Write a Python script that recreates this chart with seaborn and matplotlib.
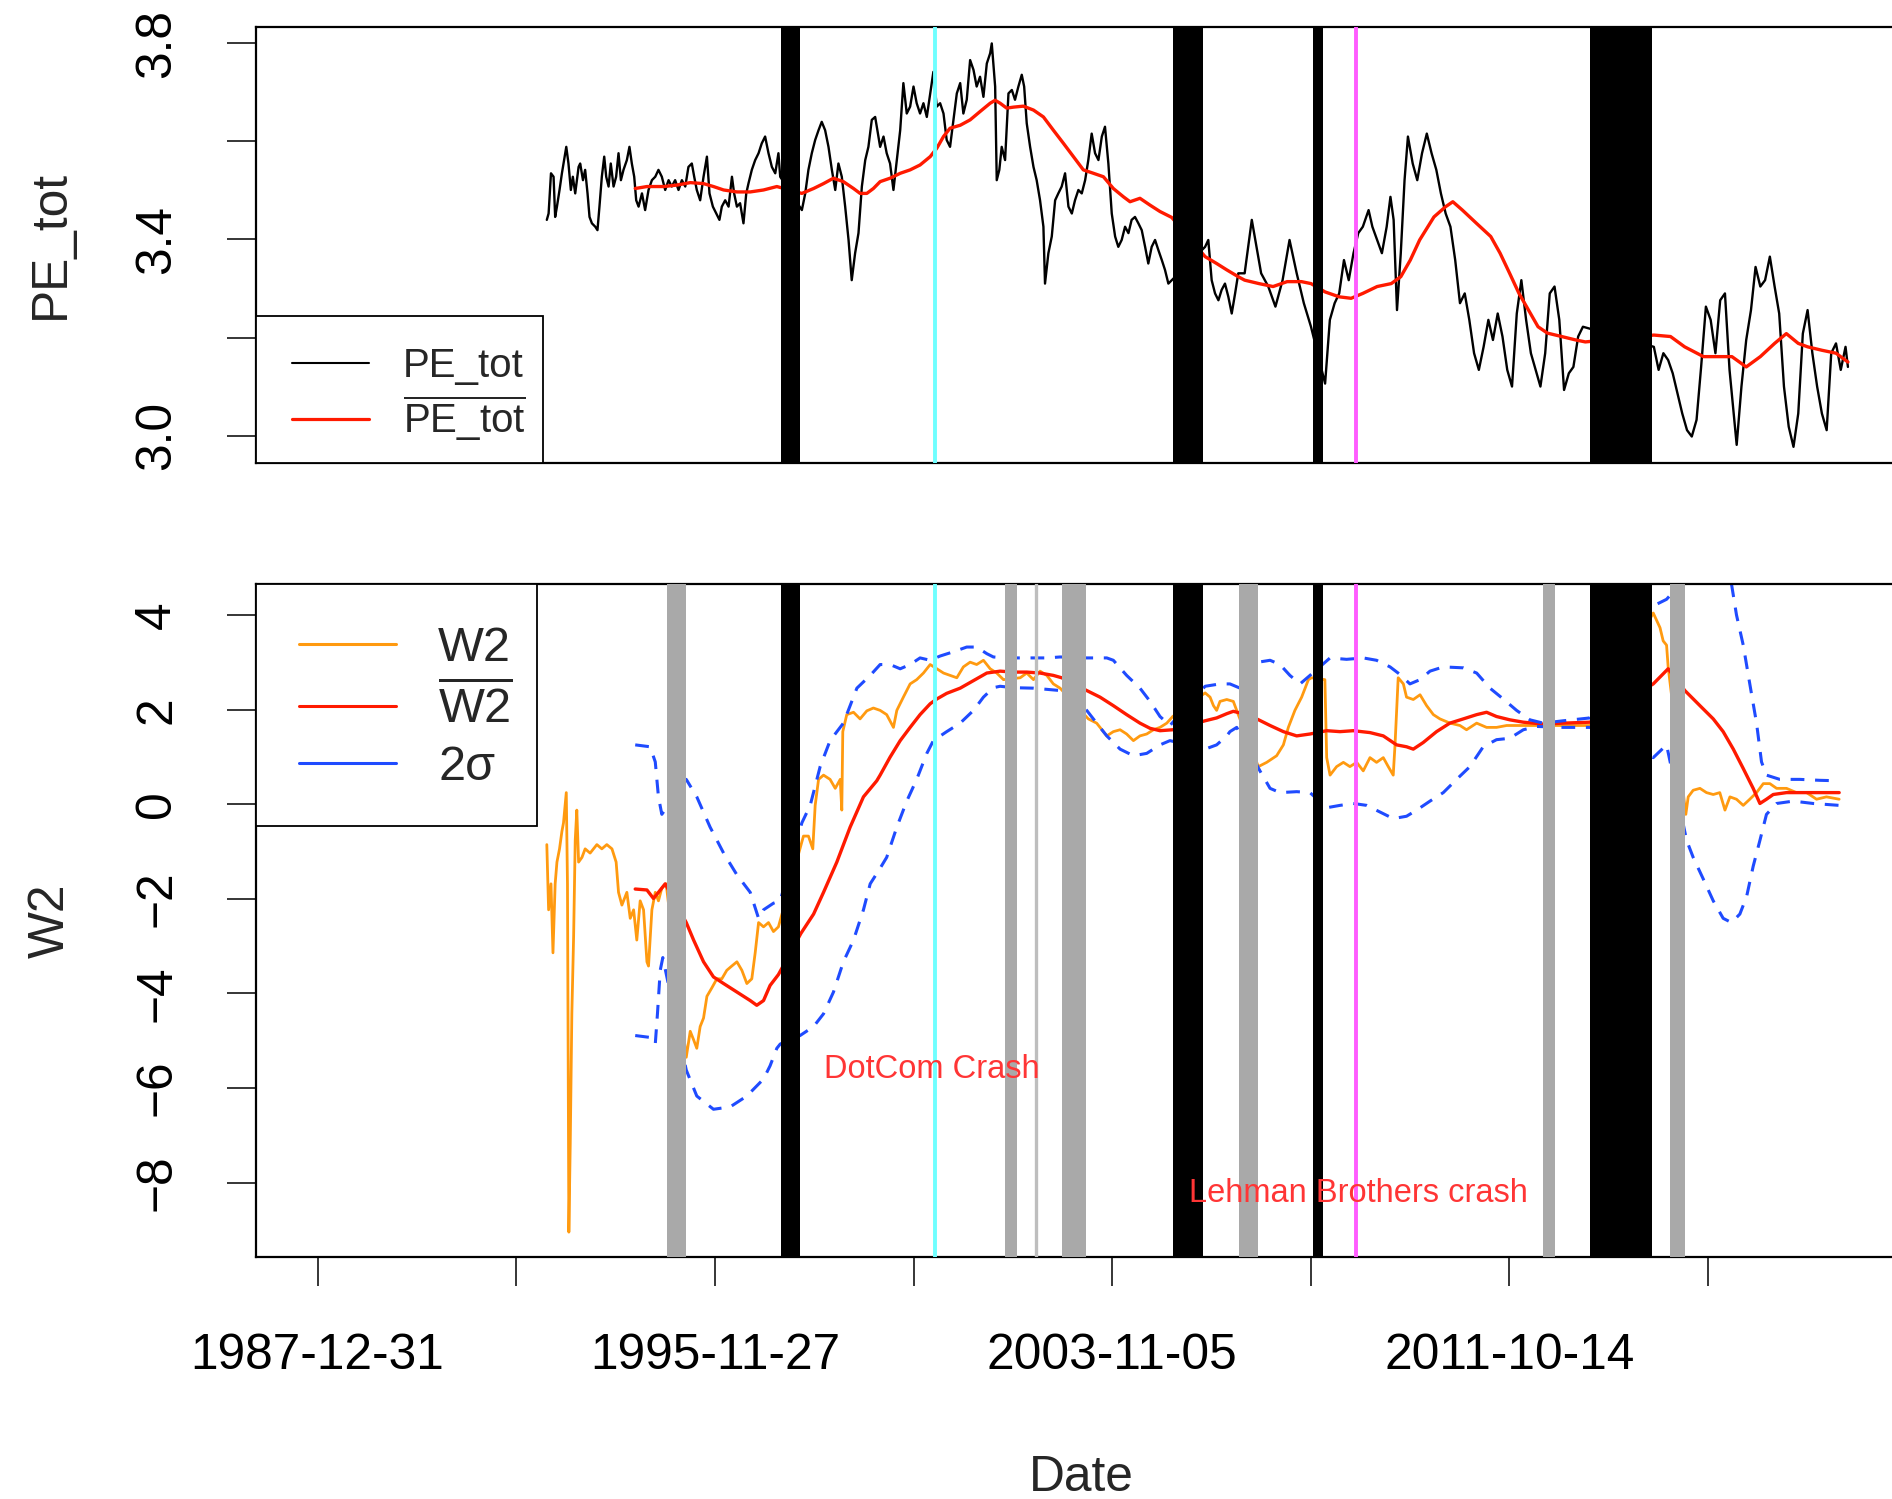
import matplotlib
matplotlib.use("Agg")
import matplotlib.pyplot as plt
import seaborn as sns
from matplotlib.lines import Line2D
from matplotlib.patches import Rectangle

# ---------------------------------------------------------------- data
# x positions are trading-day indices; dates are only used as tick labels
date_ticks = [0, 1000, 2000, 3000, 4000, 5000, 6000, 7000]
date_labels = ["1987-12-31", "", "1995-11-27", "", "2003-11-05", "", "2011-10-14", ""]

pe_idx = [1154, 1163, 1175, 1188, 1196, 1205, 1218, 1230, 1238, 1252, 1263, 1275, 1285, 1297, 1314,
          1322, 1336, 1347, 1359, 1369, 1381, 1398, 1409, 1419, 1431, 1443, 1453, 1465, 1476, 1490,
          1503, 1515, 1527, 1540, 1557, 1570, 1582, 1594, 1604, 1616, 1633, 1649, 1666, 1683, 1700,
          1716, 1733, 1750, 1767, 1783, 1800, 1817, 1834, 1851, 1867, 1884, 1896, 1909, 1926, 1943,
          1960, 1973, 1990, 2007, 2023, 2035, 2052, 2069, 2086, 2097, 2111, 2127, 2144, 2158, 2169,
          2186, 2203, 2220, 2236, 2253, 2270, 2287, 2304, 2320, 2329, 2438, 2455, 2471, 2488, 2505,
          2522, 2538, 2555, 2572, 2589, 2606, 2622, 2639, 2656, 2673, 2689, 2706, 2723, 2740, 2757,
          2773, 2790, 2807, 2832, 2849, 2865, 2882, 2899, 2916, 2933, 2949, 2966, 2983, 3000, 3016,
          3033, 3050, 3067, 3084, 3100, 3117, 3134, 3151, 3167, 3184, 3201, 3218, 3235, 3251, 3268,
          3285, 3302, 3318, 3335, 3352, 3369, 3386, 3394, 3411, 3419, 3432, 3444, 3461, 3478, 3495,
          3511, 3528, 3545, 3557, 3570, 3587, 3604, 3620, 3637, 3654, 3662, 3679, 3696, 3713, 3729,
          3746, 3763, 3780, 3797, 3813, 3830, 3847, 3864, 3880, 3897, 3914, 3931, 3948, 3964, 3981,
          3998, 4015, 4031, 4048, 4065, 4082, 4098, 4115, 4132, 4149, 4166, 4182, 4199, 4216, 4233,
          4250, 4266, 4283, 4468, 4484, 4501, 4518, 4535, 4551, 4568, 4585, 4602, 4619, 4635, 4667,
          4703, 4727, 4750, 4786, 4822, 4858, 4893, 4929, 4965, 5001, 5072, 5096, 5120, 5143, 5167,
          5191, 5215, 5239, 5262, 5291, 5310, 5334, 5358, 5382, 5401, 5417, 5434, 5453, 5472, 5489,
          5513, 5536, 5560, 5584, 5608, 5632, 5655, 5679, 5703, 5727, 5751, 5775, 5798, 5822, 5846,
          5870, 5894, 5917, 5941, 5965, 5989, 6013, 6037, 6060, 6084, 6108, 6132, 6156, 6180, 6203,
          6227, 6251, 6275, 6299, 6322, 6346, 6370, 6727, 6751, 6775, 6799, 6822, 6846, 6870, 6894,
          6918, 6942, 6965, 6989, 7013, 7037, 7061, 7085, 7108, 7132, 7144, 7168, 7192, 7216, 7239,
          7263, 7287, 7311, 7335, 7358, 7382, 7406, 7430, 7454, 7477, 7501, 7525, 7549, 7573, 7597,
          7620, 7644, 7668, 7692, 7704]
pe_val = [3.440, 3.453, 3.535, 3.528, 3.446, 3.467, 3.501, 3.535, 3.555, 3.589, 3.555, 3.501, 3.528, 3.494, 3.548,
          3.555, 3.521, 3.542, 3.494, 3.446, 3.433, 3.426, 3.419, 3.467, 3.528, 3.569, 3.528, 3.508, 3.555, 3.508,
          3.528, 3.576, 3.521, 3.542, 3.562, 3.589, 3.555, 3.528, 3.480, 3.467, 3.494, 3.460, 3.501, 3.521, 3.528,
          3.542, 3.528, 3.501, 3.521, 3.508, 3.521, 3.501, 3.521, 3.508, 3.548, 3.555, 3.528, 3.501, 3.480, 3.528,
          3.569, 3.494, 3.467, 3.453, 3.440, 3.467, 3.480, 3.467, 3.528, 3.494, 3.467, 3.474, 3.433, 3.494, 3.514,
          3.542, 3.562, 3.576, 3.596, 3.610, 3.576, 3.548, 3.535, 3.576, 3.528, 3.460, 3.494, 3.542, 3.576, 3.603,
          3.623, 3.640, 3.623, 3.589, 3.542, 3.501, 3.555, 3.528, 3.467, 3.399, 3.317, 3.372, 3.413, 3.508, 3.562,
          3.589, 3.644, 3.650, 3.589, 3.610, 3.576, 3.555, 3.501, 3.562, 3.623, 3.719, 3.657, 3.671, 3.712, 3.678,
          3.657, 3.678, 3.650, 3.698, 3.742, 3.671, 3.678, 3.657, 3.603, 3.589, 3.644, 3.698, 3.719, 3.657, 3.685,
          3.766, 3.746, 3.712, 3.732, 3.691, 3.759, 3.780, 3.800, 3.712, 3.521, 3.542, 3.589, 3.562, 3.698, 3.705,
          3.685, 3.712, 3.736, 3.712, 3.637, 3.589, 3.548, 3.521, 3.480, 3.426, 3.310, 3.372, 3.406, 3.480, 3.494,
          3.508, 3.535, 3.467, 3.453, 3.480, 3.501, 3.494, 3.521, 3.562, 3.616, 3.576, 3.562, 3.610, 3.630, 3.555,
          3.453, 3.406, 3.385, 3.399, 3.426, 3.413, 3.440, 3.446, 3.433, 3.419, 3.385, 3.351, 3.385, 3.399, 3.378,
          3.358, 3.338, 3.310, 3.385, 3.399, 3.317, 3.290, 3.276, 3.297, 3.310, 3.283, 3.249, 3.290, 3.331, 3.331,
          3.440, 3.385, 3.331, 3.304, 3.263, 3.317, 3.399, 3.331, 3.270, 3.222, 3.106, 3.236, 3.270, 3.290, 3.358,
          3.317, 3.372, 3.413, 3.426, 3.460, 3.426, 3.399, 3.372, 3.426, 3.487, 3.440, 3.256, 3.372, 3.521, 3.610,
          3.555, 3.521, 3.576, 3.616, 3.576, 3.542, 3.494, 3.453, 3.426, 3.358, 3.270, 3.290, 3.236, 3.168, 3.134,
          3.181, 3.236, 3.195, 3.249, 3.202, 3.134, 3.100, 3.249, 3.317, 3.236, 3.168, 3.134, 3.100, 3.168, 3.290,
          3.304, 3.236, 3.093, 3.127, 3.140, 3.202, 3.222, 3.181, 3.134, 3.168, 3.154, 3.127, 3.086, 3.045, 3.011,
          2.998, 3.032, 3.140, 3.263, 3.236, 3.168, 3.276, 3.290, 3.134, 3.032, 2.981, 3.100, 3.195, 3.256, 3.344,
          3.304, 3.317, 3.365, 3.304, 3.249, 3.100, 3.018, 2.977, 3.045, 3.208, 3.256, 3.168, 3.100, 3.045, 3.011,
          3.168, 3.188, 3.134, 3.181, 3.140]

pe_mean_idx = [1599, 1658, 1742, 1809, 1876, 1943, 1993, 2044, 2111, 2178, 2245, 2312, 2438, 2497, 2547,
               2597, 2647, 2698, 2731, 2765, 2798, 2832, 2882, 2933, 2983, 3033, 3084, 3117, 3151, 3184,
               3235, 3285, 3335, 3386, 3411, 3436, 3469, 3503, 3553, 3604, 3654, 3704, 3755, 3805, 3855,
               3906, 3956, 4006, 4057, 4090, 4140, 4191, 4241, 4300, 4468, 4526, 4577, 4635, 4667, 4739,
               4810, 4881, 4953, 5001, 5072, 5143, 5203, 5262, 5334, 5405, 5453, 5501, 5548, 5620, 5679,
               5715, 5763, 5834, 5906, 5953, 6001, 6048, 6096, 6144, 6191, 6263, 6334, 6382, 6727, 6811,
               6882, 6977, 7049, 7120, 7192, 7263, 7335, 7394, 7454, 7501, 7573, 7644, 7704]
pe_mean_val = [3.504, 3.508, 3.508, 3.511, 3.516, 3.514, 3.508, 3.501, 3.497, 3.497, 3.501, 3.508, 3.494, 3.504, 3.514,
               3.525, 3.518, 3.504, 3.494, 3.494, 3.504, 3.518, 3.525, 3.535, 3.542, 3.552, 3.569, 3.586, 3.610, 3.627,
               3.633, 3.644, 3.661, 3.678, 3.684, 3.678, 3.668, 3.670, 3.672, 3.664, 3.650, 3.623, 3.596, 3.569, 3.542,
               3.535, 3.528, 3.504, 3.487, 3.477, 3.484, 3.470, 3.457, 3.445, 3.365, 3.351, 3.338, 3.324, 3.317, 3.310,
               3.304, 3.314, 3.314, 3.310, 3.293, 3.283, 3.280, 3.290, 3.304, 3.310, 3.324, 3.358, 3.399, 3.446, 3.467,
               3.477, 3.460, 3.433, 3.406, 3.372, 3.331, 3.290, 3.256, 3.222, 3.209, 3.202, 3.195, 3.191, 3.205, 3.202,
               3.181, 3.161, 3.161, 3.161, 3.140, 3.161, 3.188, 3.208, 3.188, 3.181, 3.174, 3.168, 3.150]

w2_idx = [1154, 1163, 1175, 1185, 1196, 1205, 1218, 1230, 1238, 1252, 1258, 1265, 1272, 1280, 1289,
          1297, 1305, 1314, 1331, 1347, 1372, 1406, 1431, 1456, 1482, 1503, 1515, 1532, 1557, 1574,
          1591, 1607, 1624, 1641, 1658, 1666, 1683, 1700, 1716, 1733, 1755, 1856, 1876, 1893, 1909,
          1926, 1943, 1960, 1985, 2010, 2035, 2060, 2085, 2111, 2136, 2161, 2186, 2203, 2220, 2245,
          2270, 2295, 2320, 2446, 2471, 2493, 2505, 2522, 2547, 2580, 2606, 2631, 2639, 2644, 2664,
          2698, 2731, 2765, 2798, 2832, 2865, 2899, 2916, 2949, 2983, 3016, 3050, 3084, 3117, 3151,
          3184, 3218, 3251, 3285, 3318, 3352, 3386, 3419, 3453, 3537, 3570, 3604, 3637, 3671, 3704,
          3738, 3880, 3922, 3973, 4006, 4040, 4073, 4107, 4140, 4174, 4208, 4241, 4275, 4305, 4468,
          4493, 4510, 4526, 4543, 4577, 4610, 4635, 4736, 4778, 4828, 4862, 4887, 4920, 4954, 4988,
          5004, 5071, 5080, 5097, 5130, 5164, 5197, 5231, 5264, 5298, 5331, 5365, 5390, 5415, 5424,
          5440, 5466, 5482, 5516, 5550, 5583, 5617, 5650, 5701, 5751, 5784, 5835, 5885, 5935, 5986,
          6036, 6103, 6270, 6406, 6724, 6758, 6774, 6791, 6799, 6888, 6900, 6925, 6959, 6992, 7026,
          7059, 7085, 7110, 7143, 7177, 7210, 7244, 7278, 7311, 7345, 7395, 7445, 7496, 7546, 7596,
          7660]
w2_val = [-0.85, -2.23, -1.68, -3.14, -1.68, -1.22, -0.94, -0.57, -0.39, 0.25, -1.68, -9.05, -7.18, -4.43, -2.78,
          -0.76, -0.12, -1.22, -1.12, -0.94, -1.03, -0.85, -0.94, -0.85, -0.94, -1.22, -1.86, -2.13, -1.86, -2.41,
          -2.23, -2.87, -2.04, -2.23, -3.33, -3.42, -2.23, -1.86, -2.04, -1.77, -1.68, -5.35, -4.80, -4.98, -5.16,
          -4.70, -4.52, -4.06, -3.88, -3.69, -3.69, -3.51, -3.42, -3.33, -3.51, -3.79, -3.69, -3.14, -2.50, -2.59,
          -2.50, -2.69, -2.59, -0.67, -0.67, -0.94, -0.02, 0.53, 0.62, 0.53, 0.34, 0.53, -0.12, 1.54, 1.90,
          1.95, 1.81, 1.98, 2.04, 1.99, 1.90, 1.63, 1.99, 2.27, 2.55, 2.64, 2.78, 2.96, 2.87, 2.78,
          2.73, 2.68, 2.91, 3.01, 2.96, 3.05, 2.87, 2.78, 2.64, 2.68, 2.78, 2.64, 2.82, 2.73, 2.55,
          2.46, 1.81, 1.72, 1.45, 1.54, 1.58, 1.49, 1.35, 1.45, 1.49, 1.58, 1.63, 1.72, 1.86, 2.36,
          2.27, 2.09, 1.99, 2.18, 2.22, 2.18, 1.90, 0.80, 0.89, 1.03, 1.26, 1.63, 1.99, 2.27, 2.64,
          2.68, 2.64, 0.99, 0.62, 0.80, 0.89, 0.80, 0.89, 0.71, 0.99, 0.89, 0.99, 0.80, 0.62, 1.26,
          2.68, 2.55, 2.27, 2.22, 2.32, 2.09, 1.90, 1.81, 1.72, 1.67, 1.58, 1.72, 1.63, 1.63, 1.67,
          1.67, 1.67, 1.67, 1.67, 4.05, 3.74, 3.46, 3.37, 2.91, -0.21, 0.16, 0.30, 0.34, 0.25, 0.21,
          0.25, -0.12, 0.16, 0.11, -0.02, 0.11, 0.25, 0.44, 0.44, 0.34, 0.34, 0.25, 0.25, 0.11, 0.16,
          0.11]

w2_mean_idx = [1599, 1658, 1691, 1716, 1750, 1856, 1893, 1943, 1993, 2044, 2111, 2178, 2211, 2245, 2278,
               2320, 2433, 2497, 2547, 2614, 2681, 2748, 2815, 2832, 2882, 2933, 2983, 3033, 3084, 3117,
               3167, 3235, 3302, 3369, 3436, 3503, 3570, 3637, 3704, 3746, 3872, 3939, 4006, 4073, 4140,
               4191, 4241, 4305, 4468, 4526, 4577, 4610, 4660, 4728, 4795, 4862, 4929, 4996, 5080, 5147,
               5214, 5298, 5365, 5432, 5482, 5516, 5566, 5633, 5700, 5768, 5835, 5885, 5935, 6002, 6070,
               6170, 6271, 6405, 6724, 6799, 6883, 6959, 7026, 7076, 7127, 7177, 7227, 7261, 7294, 7328,
               7395, 7462, 7529, 7660]
w2_mean_val = [-1.79, -1.81, -1.99, -1.86, -1.68, -2.50, -2.87, -3.33, -3.65, -3.79, -3.97, -4.15, -4.25, -4.15, -3.83,
               -3.60, -2.73, -2.32, -1.86, -1.22, -0.48, 0.16, 0.50, 0.62, 1.00, 1.35, 1.63, 1.90, 2.13, 2.23,
               2.35, 2.46, 2.62, 2.78, 2.82, 2.80, 2.80, 2.78, 2.73, 2.68, 2.41, 2.27, 2.09, 1.90, 1.72,
               1.61, 1.56, 1.58, 1.77, 1.83, 1.92, 1.97, 1.92, 1.81, 1.67, 1.54, 1.45, 1.49, 1.56, 1.54,
               1.56, 1.52, 1.45, 1.26, 1.22, 1.17, 1.31, 1.54, 1.72, 1.81, 1.90, 1.95, 1.86, 1.79, 1.74,
               1.70, 1.72, 1.74, 2.55, 2.87, 2.41, 2.09, 1.81, 1.54, 1.17, 0.76, 0.34, 0.02, 0.11, 0.21,
               0.25, 0.25, 0.25, 0.25]

upper_idx = [1599, 1674, 1700, 1716, 1733, 1856, 1909, 1976, 2044, 2111, 2178, 2220, 2245, 2295, 2329,
             2438, 2480, 2530, 2580, 2647, 2715, 2782, 2832, 2882, 2933, 2983, 3033, 3084, 3134, 3201,
             3268, 3318, 3369, 3402, 3469, 3570, 3671, 3738, 3872, 3973, 4006, 4073, 4140, 4191, 4241,
             4291, 4468, 4543, 4593, 4644, 4736, 4795, 4845, 4895, 4946, 4996, 5097, 5180, 5264, 5331,
             5399, 5449, 5499, 5550, 5600, 5667, 5768, 5835, 5902, 5969, 6036, 6103, 6170, 6271, 6405,
             6724, 6791, 6900, 7000, 7080, 7118, 7143, 7177, 7210, 7244, 7269, 7294, 7361, 7462, 7563,
             7660]
upper_val = [1.26, 1.22, 0.90, 0.16, -0.21, 0.53, 0.16, -0.48, -1.03, -1.49, -1.86, -2.41, -2.23, -2.09, -2.04,
             -0.39, -0.02, 0.80, 1.35, 1.72, 2.46, 2.73, 2.96, 2.96, 2.87, 2.96, 3.10, 3.05, 3.14, 3.23,
             3.33, 3.33, 3.19, 3.12, 3.10, 3.10, 3.10, 3.12, 3.10, 3.10, 3.05, 2.73, 2.46, 2.18, 1.86,
             1.67, 2.50, 2.55, 2.55, 2.46, 3.01, 3.05, 2.96, 2.73, 2.55, 2.73, 3.10, 3.07, 3.10, 3.05,
             2.91, 2.75, 2.55, 2.64, 2.82, 2.91, 2.89, 2.78, 2.46, 2.23, 1.99, 1.79, 1.72, 1.77, 1.83,
             4.20, 4.34, 4.85, 5.10, 4.95, 4.66, 4.01, 3.37, 2.55, 1.72, 0.90, 0.62, 0.53, 0.53, 0.51,
             0.50]

lower_idx = [1599, 1674, 1700, 1711, 1725, 1738, 1856, 1909, 1993, 2077, 2161, 2245, 2278, 2312, 2329,
             2429, 2497, 2547, 2597, 2647, 2698, 2748, 2782, 2832, 2865, 2916, 2966, 3016, 3067, 3100,
             3167, 3235, 3302, 3352, 3402, 3436, 3503, 3604, 3738, 3771, 3872, 3922, 3973, 4040, 4107,
             4174, 4241, 4291, 4468, 4526, 4577, 4593, 4627, 4744, 4795, 4845, 4929, 4996, 5080, 5147,
             5214, 5281, 5348, 5415, 5482, 5533, 5600, 5667, 5734, 5801, 5868, 5935, 6002, 6070, 6137,
             6271, 6405, 6724, 6791, 6892, 6925, 6976, 7026, 7076, 7118, 7160, 7194, 7227, 7261, 7294,
             7345, 7429, 7529, 7660]
lower_val = [-4.89, -4.93, -5.07, -4.43, -3.51, -3.24, -5.62, -6.17, -6.45, -6.40, -6.17, -5.81, -5.53, -5.16, -5.07,
             -4.89, -4.70, -4.43, -3.97, -3.33, -2.87, -2.23, -1.68, -1.35, -1.12, -0.48, 0.07, 0.53, 1.08, 1.35,
             1.54, 1.72, 1.99, 2.27, 2.47, 2.50, 2.47, 2.46, 2.41, 2.38, 1.99, 1.72, 1.45, 1.17, 1.03,
             1.08, 1.26, 1.35, 1.17, 1.26, 1.45, 1.54, 1.63, 0.71, 0.34, 0.25, 0.27, 0.25, -0.07, -0.02,
             0.02, -0.02, -0.16, -0.30, -0.25, -0.12, 0.07, 0.25, 0.53, 0.80, 1.22, 1.37, 1.40, 1.58, 1.65,
             1.63, 1.63, 0.99, 1.26, -0.76, -1.12, -1.58, -2.04, -2.41, -2.50, -2.32, -1.95, -1.31, -0.76, -0.21,
             0.02, 0.07, 0.02, -0.02]

# event windows (trading-day indices)
black_spans = [(2332, 2431), (4308, 4459), (5010, 5063), (6408, 6720)]
gray_spans = [(1758, 1856), (3461, 3521), (3750, 3869), (4640, 4733), (6170, 6229), (6806, 6883)]
thin_gray_line = 3616
dotcom_line = 3108
lehman_line = 5226

# ---------------------------------------------------------------- style
sns.set_theme(style="white")
plt.rcParams["font.family"] = ["Liberation Sans", "DejaVu Sans"]
plt.rcParams["mathtext.fontset"] = "custom"
plt.rcParams["mathtext.rm"] = "Liberation Sans"
plt.rcParams["mathtext.it"] = "Liberation Sans:italic"
plt.rcParams["mathtext.bf"] = "Liberation Sans:bold"

FS = 35.7
ORANGE = "#FF9A10"
RED = "#FF1A00"
BLUE = "#1F4BFF"
GRAY = "#A9A9A9"

W, H = 1892, 1499
fig = plt.figure(figsize=(W / 100, H / 100), dpi=100)


def px_box(x0, y0, x1, y1):
    return [x0 / W, 1 - y1 / H, (x1 - x0) / W, (y1 - y0) / H]


ax1 = fig.add_axes(px_box(256, 26.5, 1924, 463))
ax2 = fig.add_axes(px_box(256, 584, 1924, 1257))

for ax in (ax1, ax2):
    ax.set_facecolor("white")
    for sp in ax.spines.values():
        sp.set_color("black")
        sp.set_linewidth(1.6)
    ax.set_xlim(-310, 8087)
    ax.tick_params(axis="both", direction="out", length=21, width=1.1, color="black",
                   labelsize=FS, pad=33.5, left=True, bottom=True, labelcolor="black")


def draw_events(ax, with_gray):
    if with_gray:
        for a, b in gray_spans:
            ax.axvspan(a, b, color=GRAY, lw=0, zorder=3)
        ax.axvline(thin_gray_line, color="#BEBEBE", lw=2.4, zorder=3)
    for a, b in black_spans:
        ax.axvspan(a, b, color="black", lw=0, zorder=3)
    ax.axvline(dotcom_line, color="#6FFFFF", lw=2.8, zorder=3.1)
    ax.axvline(lehman_line, color="#FF5CFF", lw=2.8, zorder=3.1)


# ---------------------------------------------------------------- top panel
sns.lineplot(x=pe_idx, y=pe_val, ax=ax1, color="black", linewidth=1.7,
             sort=False, estimator=None, legend=False)
sns.lineplot(x=pe_mean_idx, y=pe_mean_val, ax=ax1, color=RED, linewidth=2.4,
             sort=False, estimator=None, legend=False)
draw_events(ax1, with_gray=False)

ax1.set_ylim(2.944, 3.8345)
ax1.set_yticks([3.0, 3.2, 3.4, 3.6, 3.8])
ax1.set_yticklabels(["3.0", "", "3.4", "", "3.8"], rotation=90, va="center")
ax1.set_xticks([])
ax1.set_xlabel("")
ax1.set_ylabel("PE_tot", fontsize=FS, va="bottom")
ax1.yaxis.set_label_coords(-0.1094, 0.5)

# legend box anchored at the lower-left corner
ax1.add_patch(Rectangle((0, 0), 0.1721, 0.3368, transform=ax1.transAxes, facecolor="white",
                        edgecolor="black", lw=1.3, zorder=5, clip_on=False))
top_handles = [Line2D([], [], color="black", lw=1.5), Line2D([], [], color=RED, lw=2.3)]
top_labels = ["PE_tot", r"$\overline{\mathrm{PE\_tot}}$"]
ax1.legend(top_handles, top_labels, loc="upper left", bbox_to_anchor=(0.0216, 0.2655),
           frameon=False, fontsize=29, borderpad=0, borderaxespad=0, handlelength=1.9,
           handletextpad=0.85, labelspacing=0.21).set_zorder(6)

# ---------------------------------------------------------------- bottom panel
sns.lineplot(x=w2_idx, y=w2_val, ax=ax2, color=ORANGE, linewidth=2.0,
             sort=False, estimator=None, legend=False)
sns.lineplot(x=w2_mean_idx, y=w2_mean_val, ax=ax2, color=RED, linewidth=2.4,
             sort=False, estimator=None, legend=False)
sns.lineplot(x=upper_idx, y=upper_val, ax=ax2, color=BLUE, linewidth=2.2, linestyle=(0, (4.5, 3.5)),
             sort=False, estimator=None, legend=False)
sns.lineplot(x=lower_idx, y=lower_val, ax=ax2, color=BLUE, linewidth=2.2, linestyle=(0, (4.5, 3.5)),
             sort=False, estimator=None, legend=False)
draw_events(ax2, with_gray=True)

ax2.text(3091, -5.79, "DotCom Crash", color="#FF3535", fontsize=23.5,
         ha="center", va="baseline", zorder=4)
ax2.text(5241, -8.41, "Lehman Brothers crash", color="#FF3535", fontsize=23.5,
         ha="center", va="baseline", zorder=4)

ax2.set_ylim(-9.576, 4.664)
w2_ticks = [-8, -6, -4, -2, 0, 2, 4]
ax2.set_yticks(w2_ticks)
ax2.set_yticklabels([str(t).replace("-", "\u2212") for t in w2_ticks], rotation=90, va="center")
ax2.set_xticks(date_ticks)
ax2.set_xticklabels(date_labels)
ax2.set_ylabel("W2", fontsize=FS, va="bottom")
ax2.yaxis.set_label_coords(-0.1094, 0.5)
ax2.set_xlabel("Date", fontsize=FS, va="top")
ax2.xaxis.set_label_coords(0.4946, -0.2942)

ax2.add_patch(Rectangle((0, 0.6404), 0.1685, 0.3596, transform=ax2.transAxes, facecolor="white",
                        edgecolor="black", lw=1.3, zorder=5, clip_on=False))
bot_handles = [Line2D([], [], color=ORANGE, lw=2.2), Line2D([], [], color=RED, lw=2.2),
               Line2D([], [], color=BLUE, lw=2.2)]
bot_labels = ["W2", r"$\overline{\mathrm{W2}}$", "2\u03c3"]
ax2.legend(bot_handles, bot_labels, loc="upper left", bbox_to_anchor=(0.0258, 0.937),
           frameon=False, fontsize=35, borderpad=0, borderaxespad=0, handlelength=2.0,
           handletextpad=0.86, labelspacing=0.24).set_zorder(6)

fig.savefig("out.png", dpi=100, facecolor="white")
